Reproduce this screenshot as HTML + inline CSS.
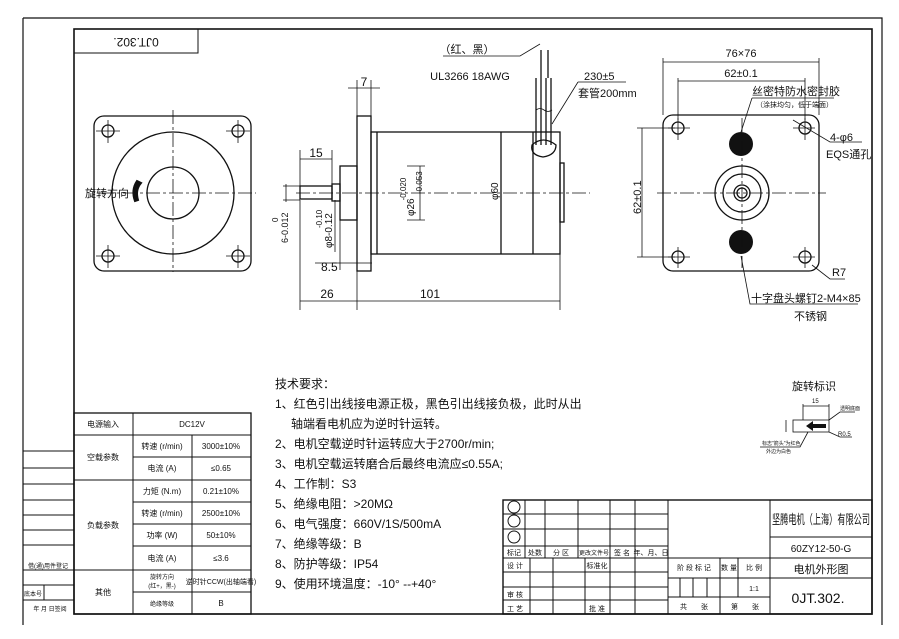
<!DOCTYPE html>
<html><head><meta charset="utf-8"><style>
html,body{margin:0;padding:0;background:#fff;}
svg{display:block;}
text{font-family:"Liberation Sans","Noto Sans CJK SC",sans-serif;fill:#111;}
</style></head><body>
<svg width="899" height="639" viewBox="0 0 899 639" xmlns="http://www.w3.org/2000/svg">
<g fill="none" stroke="#111" stroke-width="1">
<path d="M23 18 H882 V625 M23 18 V625" stroke-width="1.2"/>
<rect x="74" y="29" width="798" height="585" stroke-width="1.6"/>
<rect x="74" y="29" width="124" height="24"/>
<path d="M23 451H74 M23 468H74 M23 484H74 M23 500H74 M23 515H74 M23 530H74 M23 545H74 M23 570H74 M23 585H74 M23 600H74 M44 585V600"/>
<rect x="74" y="413" width="177" height="201" stroke-width="1.3"/>
<path d="M133 413V614 M192 435V614 M74 435H251 M133 457H251 M74 480H251 M133 502H251 M133 524H251 M133 546H251 M74 570H251 M133 592H251"/>
<rect x="503" y="500" width="369" height="114" stroke-width="1.4"/>
<path d="M503 514H668 M503 529H668 M503 546H668 M503 558H770 M503 572H668 M503 587H668 M503 600H668 M668 578H770 M668 597H770"/>
<path d="M525 500V558 M545 500V558 M578 500V558 M610 500V558 M635 500V558 M668 500V614"/>
<path d="M530 558V614 M553 558V614 M585 558V614 M610 558V614 M635 558V614"/>
<path d="M720 558V614 M738 558V597 M680 578V597 M693 578V597 M707 578V597"/>
<path d="M770 500V614 M770 537H872 M770 558H872 M770 578H872"/>
<circle cx="514" cy="507" r="6"/><circle cx="514" cy="521" r="6"/><circle cx="514" cy="537" r="6"/>
</g>

<g fill="none" stroke="#111" stroke-width="1.3">
<rect x="94" y="116" width="157" height="155" rx="10"/>
<circle cx="173" cy="193" r="61"/>
<circle cx="173" cy="193" r="26"/>
<circle cx="108" cy="131" r="6"/><circle cx="238" cy="131" r="6"/><circle cx="108" cy="256" r="6"/><circle cx="238" cy="256" r="6"/>
</g>
<g stroke="#111" stroke-width="0.8" stroke-dasharray="14 3 3 3" fill="none">
<path d="M173 110V272 M100 193H256"/>
<path d="M108 120V143 M96 131H120 M238 120V143 M226 131H250 M108 245V268 M96 256H120 M238 245V268 M226 256H250" stroke-dasharray="none"/>
</g>
<path d="M141 183 Q135 190 138 200 L135 201 Q131 190 137 181 Z" fill="#111" stroke="#111" stroke-width="2"/>
<text x="85" y="197" font-size="11">旋转方向</text>
<text x="136" y="46" font-size="12" text-anchor="middle" transform="rotate(180 136 42)">0JT.302.</text>

<g fill="none" stroke="#111" stroke-width="1.3">
<rect x="357" y="116" width="14" height="155"/>
<rect x="371" y="132" width="189" height="122"/>
<path d="M377 132V254 M501 132V254 M533 132V254"/>
<rect x="560" y="163" width="4" height="59"/>
<rect x="340" y="166" width="17" height="54"/>
<rect x="332" y="184" width="8" height="17"/>
<rect x="300" y="186" width="32" height="13"/>
<path d="M536 78V145 M551 78V145 M541 50V78 M548 50V78 M541 78V145 M546 78V145"/>
<path d="M532 145 Q543 135 556 145 Q556 155 543 157 Q530 155 532 145Z"/>
<path d="M536 110 q4 -3 8 0 q4 3 8 0" stroke-width="0.8"/>
</g>
<path d="M296 193H590" stroke="#111" stroke-width="0.8" stroke-dasharray="14 3 3 3"/>
<g stroke="#111" stroke-width="0.8" fill="none">
<path d="M357 80V116 M371 80V116 M348 88H380"/>
<path d="M300 150V186 M332 150V184 M300 159H332"/>
<path d="M300 200V310 M357 271V310 M560 222V310 M300 301H560"/>
<path d="M340 220V270 M315 263H372"/>
<path d="M286 184V202 M283 200H300 M283 186H300"/>
<path d="M335 200V252 M407 166H425 M407 220H425 M420 166V220"/>
<path d="M501 138V250"/>
<path d="M443 56H520 L540 44"/>
<path d="M578 82H626 M578 82 L552 124"/>
</g>
<text x="364" y="86" font-size="12" text-anchor="middle">7</text>
<text x="316" y="157" font-size="12" text-anchor="middle">15</text>
<text x="321" y="271" font-size="12">8.5</text>
<text x="327" y="298" font-size="12" text-anchor="middle">26</text>
<text x="430" y="298" font-size="12" text-anchor="middle">101</text>
<text x="467" y="53" font-size="11" text-anchor="middle">（红、黑）</text>
<text x="470" y="80" font-size="11" text-anchor="middle">UL3266 18AWG</text>
<text x="584" y="80" font-size="11">230±5</text>
<text x="578" y="97" font-size="11">套管200mm</text>
<text font-size="10" transform="translate(498 200) rotate(-90)">φ60</text>
<text font-size="10" transform="translate(414 216) rotate(-90)">φ26<tspan font-size="8" dy="-8" dx="-2">-0.020</tspan></text>
<text font-size="8" transform="translate(422 194) rotate(-90)">-0.053</text>
<text font-size="10" transform="translate(332 248) rotate(-90)">φ8-0.12</text>
<text font-size="8" transform="translate(322 228) rotate(-90)">-0.10</text>
<text font-size="9" transform="translate(288 243) rotate(-90)">6-0.012</text>
<text font-size="8" transform="translate(278 222) rotate(-90)">0</text>

<g fill="none" stroke="#111" stroke-width="1.3">
<rect x="663" y="115" width="156" height="156" rx="10"/>
<circle cx="742" cy="193" r="27"/><circle cx="742" cy="193" r="19"/><circle cx="742" cy="193" r="8"/><circle cx="742" cy="193" r="5"/>
<circle cx="678" cy="128" r="6"/><circle cx="805" cy="128" r="6"/><circle cx="678" cy="257" r="6"/><circle cx="805" cy="257" r="6"/>
</g>
<circle cx="741" cy="144" r="12" fill="#111"/><circle cx="741" cy="242" r="12" fill="#111"/>
<path d="M657 193H826 M742 118V268" stroke="#111" stroke-width="0.8" stroke-dasharray="14 3 3 3"/>
<g stroke="#111" stroke-width="0.8" fill="none">
<path d="M668 128H690 M793 128H815 M668 257H690 M793 257H815 M678 118V140 M805 118V140 M678 247V268 M805 247V268"/>
<path d="M663 58V115 M819 58V115 M663 62H819"/>
<path d="M678 78V120 M805 78V120 M678 81H805"/>
<path d="M637 128H675 M637 257H675 M642 128V257"/>
<path d="M752 98H834 M752 98 L741 132"/>
<path d="M793 120 L830 142 H862"/>
<path d="M812 265 L830 279 H845"/>
<path d="M741 256 L750 304 H858"/>
</g>
<text x="741" y="57" font-size="11" text-anchor="middle">76×76</text>
<text x="741" y="77" font-size="11" text-anchor="middle">62±0.1</text>
<text font-size="11" transform="translate(641 214) rotate(-90)">62±0.1</text>
<text x="752" y="95" font-size="11">丝密特防水密封胶</text>
<text x="756" y="107" font-size="7">（涂抹均匀，低于端面）</text>
<text x="830" y="141" font-size="11">4-φ6</text>
<text x="826" y="158" font-size="11">EQS通孔</text>
<text x="832" y="276" font-size="11">R7</text>
<text x="751" y="302" font-size="11">十字盘头螺钉2-M4×85</text>
<text x="794" y="320" font-size="11">不锈钢</text>

<g font-size="12">
<text x="275" y="388">技术要求：</text>
<text x="275" y="408">1、红色引出线接电源正极，黑色引出线接负极，此时从出</text>
<text x="291" y="428">轴端看电机应为逆时针运转。</text>
<text x="275" y="448">2、电机空载逆时针运转应大于2700r/min;</text>
<text x="275" y="468">3、电机空载运转磨合后最终电流应≤0.55A;</text>
<text x="275" y="488">4、工作制：S3</text>
<text x="275" y="508">5、绝缘电阻：&gt;20MΩ</text>
<text x="275" y="528">6、电气强度：660V/1S/500mA</text>
<text x="275" y="548">7、绝缘等级：B</text>
<text x="275" y="568">8、防护等级：IP54</text>
<text x="275" y="588">9、使用环境温度：-10° --+40°</text>
</g>

<text x="792" y="390" font-size="11">旋转标识</text>
<g stroke="#111" stroke-width="0.8" fill="none">
<rect x="793" y="420" width="36" height="12"/>
<path d="M803 404V420 M829 404V420 M803 406H829 M786 420V432 M829 420 L840 412 H855 M829 432 L840 437 H852 M808 432 L800 447 H760"/>
</g>
<path d="M806 426 L813 421 V424 H826 V428 H813 V431 Z" fill="#111"/>
<text x="812" y="403" font-size="6">15</text>
<text x="840" y="410" font-size="5">透明底面</text>
<text x="838" y="436" font-size="6">R0.5</text>
<text x="762" y="445" font-size="5">标志"箭头"为红色</text>
<text x="766" y="453" font-size="5">外边为白色</text>

<g font-size="8" text-anchor="middle">
<text x="103" y="427">电源输入</text>
<text x="192" y="427">DC12V</text>
<text x="103" y="460">空载参数</text>
<text x="162" y="449">转速 (r/min)</text>
<text x="221" y="449">3000±10%</text>
<text x="162" y="471">电流 (A)</text>
<text x="221" y="471">≤0.65</text>
<text x="103" y="528">负载参数</text>
<text x="162" y="494">力矩 (N.m)</text>
<text x="221" y="494">0.21±10%</text>
<text x="162" y="516">转速 (r/min)</text>
<text x="221" y="516">2500±10%</text>
<text x="162" y="538">功率 (W)</text>
<text x="221" y="538">50±10%</text>
<text x="162" y="561">电流 (A)</text>
<text x="221" y="561">≤3.6</text>
<text x="103" y="595">其他</text>
<text x="162" y="579" font-size="6">旋转方向</text>
<text x="162" y="588" font-size="6">(红+，黑-)</text>
<text x="221" y="584" font-size="7">逆时针CCW(出轴端看)</text>
<text x="162" y="606" font-size="6">绝缘等级</text>
<text x="221" y="606">B</text>
<text x="48" y="568" font-size="6">借(通)用件登记</text>
<text x="33" y="596" font-size="6">底本号</text>
<text x="50" y="611" font-size="6">年 月 日签阅</text>
</g>

<g font-size="7" text-anchor="middle">
<text x="514" y="555">标记</text><text x="535" y="555">处数</text><text x="561" y="555">分 区</text>
<text x="594" y="555" font-size="6">更改文件号</text><text x="622" y="555">签 名</text><text x="651" y="555">年、月、日</text>
<text x="515" y="568">设 计</text><text x="597" y="568">标准化</text>
<text x="515" y="597">审 核</text><text x="515" y="611">工 艺</text><text x="597" y="611">批 准</text>
<text x="694" y="570">阶 段 标 记</text><text x="729" y="570">数 量</text><text x="754" y="570">比 例</text>
<text x="754" y="591">1:1</text>
<text x="694" y="609">共　　张</text><text x="745" y="609">第　　张</text>
</g>
<text x="772" y="524" font-size="13" textLength="98" lengthAdjust="spacingAndGlyphs">坚腾电机（上海）有限公司</text>
<text x="821" y="552" font-size="10" text-anchor="middle">60ZY12-50-G</text>
<text x="821" y="573" font-size="11" text-anchor="middle">电机外形图</text>
<text x="818" y="603" font-size="14" text-anchor="middle">0JT.302.</text>
</svg>
</body></html>
